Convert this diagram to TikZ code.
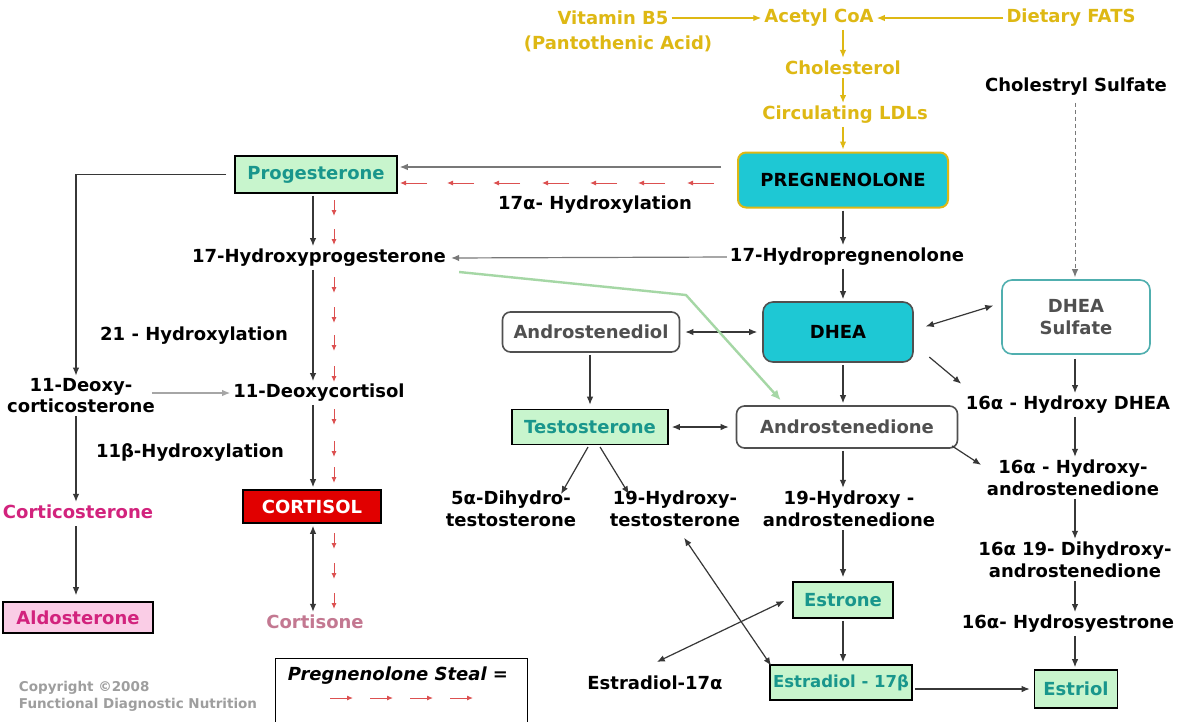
\documentclass[tikz,border=0pt]{standalone}
\usepackage{fontspec}
\setmainfont{DejaVu Sans}
\usetikzlibrary{arrows.meta,calc}
\definecolor{goldc}{RGB}{222,184,20}
\definecolor{cyanf}{RGB}{30,200,212}
\definecolor{greenf}{RGB}{200,245,205}
\definecolor{tealt}{RGB}{25,150,140}
\definecolor{magt}{RGB}{210,35,125}
\definecolor{pinkf}{RGB}{250,205,230}
\definecolor{redf}{RGB}{225,0,0}
\definecolor{linec}{RGB}{55,55,55}
\definecolor{lgray}{RGB}{120,120,120}
\definecolor{stealc}{RGB}{220,80,80}
\definecolor{cortc}{RGB}{195,120,145}
\definecolor{grt}{RGB}{80,80,80}
\definecolor{sulfc}{RGB}{80,175,175}
\definecolor{greenl}{RGB}{165,215,165}
\begin{document}
\begin{tikzpicture}[x=1pt,y=-1pt,
 lbl/.style={font=\bfseries\fontsize{18}{22}\selectfont, align=center, inner sep=1pt, text=black},
 yel/.style={lbl, text=goldc},
 gbox/.style={lbl, draw=black, line width=1.6pt, fill=greenf, text=tealt, inner sep=0pt},
 rbox/.style={lbl, draw=grt, line width=1.6pt, rounded corners=8pt, fill=white, text=grt, inner sep=0pt},
 tip/.style={-{Latex[length=8pt,width=6.5pt]}},
 arr/.style={draw=linec, line width=1.2pt, tip, shorten >=2pt, shorten <=2pt},
 garr/.style={arr, draw=lgray},
 dbl/.style={arr, {Latex[length=8pt,width=6.5pt]}-{Latex[length=8pt,width=6.5pt]}},
 yarr/.style={draw=goldc, line width=1.4pt, -{Latex[length=8pt,width=6.5pt]}, shorten >=2pt, shorten <=2pt},
 steal/.style={draw=stealc, line width=1pt, -{Latex[length=6pt,width=5pt]}}
]
\useasboundingbox[fill=white] (0,0) rectangle (1182,721);

\coordinate (hx) at (843,0);
\coordinate (lc) at (313,0);
\coordinate (lx) at (76,0);
\coordinate (rx) at (1075,0);

% ---- top (yellow) ----
\node[yel] (vb1) at (613,18) {Vitamin B5};
\node[yel] (vb2) at (618,44) {(Pantothenic Acid)};
\node[yel] (acoa) at (819,18) {Acetyl CoA};
\node[yel] (fats) at (1071,18) {Dietary FATS};
\node[yel] (chol) at (843,68) {Cholesterol};
\node[yel] (ldl) at (845,115) {Circulating LDLs};
\node[lbl, draw=goldc, line width=2pt, fill=cyanf, rounded corners=8pt, minimum width=210pt, minimum height=55pt] (preg) at (843,180) {PREGNENOLONE};
\node[lbl] (cs) at (1076,87) {Cholestryl Sulfate};

\draw[yarr] (vb1.east) -- (acoa.west);
\draw[yarr] (fats.west) -- (acoa.east);
\draw[yarr] (acoa.south -| hx) -- (chol.north -| hx);
\draw[yarr] (chol.south -| hx) -- (ldl.north -| hx);
\draw[yarr] (ldl.south -| hx) -- (preg.north -| hx);

% ---- left column ----
\node[gbox, minimum width=162pt, minimum height=37pt] (prog) at (316,174.5) {Progesterone};
\node[lbl] (hyl17) at (595,205) {17α- Hydroxylation};
\node[lbl] (ohp) at (319,258) {17-Hydroxyprogesterone};
\node[lbl] (h21) at (194,336) {21 - Hydroxylation};
\node[lbl, font=\bfseries\fontsize{18}{21}\selectfont] (doc) at (81,396) {11-Deoxy-\\corticosterone};
\node[lbl] (dcort) at (319,393) {11-Deoxycortisol};
\node[lbl] (h11b) at (190,452) {11β-Hydroxylation};
\node[lbl, text=magt] (cortico) at (78,512) {Corticosterone};
\node[lbl, draw=black, line width=1.6pt, fill=redf, text=white, minimum width=138pt, minimum height=33pt, inner sep=0pt] (cortisol) at (312,506.5) {CORTISOL};
\node[lbl, draw=black, line width=1.6pt, fill=pinkf, text=magt, minimum width=150pt, minimum height=31pt, inner sep=0pt] (aldo) at (78,617.5) {Aldosterone};
\node[lbl, text=cortc] (cortisone) at (315,622) {Cortisone};

% ---- middle / right ----
\node[lbl] (hpreg) at (847,257) {17-Hydropregnenolone};
\node[rbox, draw=sulfc, rounded corners=10pt, minimum width=148pt, minimum height=74pt] (dheas) at (1076,317) {DHEA\\Sulfate};
\node[rbox, minimum width=177pt, minimum height=40pt] (adiol) at (591,332) {Androstenediol};
\node[lbl, draw=grt, line width=1.6pt, fill=cyanf, rounded corners=10pt, minimum width=150pt, minimum height=60pt] (dhea) at (838,332) {DHEA};
\node[gbox, minimum width=156pt, minimum height=35pt] (testo) at (590,427) {Testosterone};
\node[rbox, minimum width=221pt, minimum height=42pt] (adione) at (847,427) {Androstenedione};
\node[lbl] (h16dhea) at (1068,405) {16α - Hydroxy DHEA};
\node[lbl] (h16ad) at (1073,478) {16α - Hydroxy-\\androstenedione};
\node[lbl] (dht) at (511,509) {5α-Dihydro-\\testosterone};
\node[lbl] (oht) at (675,509) {19-Hydroxy-\\testosterone};
\node[lbl] (oha) at (849,509) {19-Hydroxy -\\androstenedione};
\node[lbl] (dihy) at (1075,560) {16α 19- Dihydroxy-\\androstenedione};
\node[gbox, minimum width=100pt, minimum height=36pt] (estrone) at (843,600) {Estrone};
\node[lbl] (hyes) at (1068,624) {16α- Hydrosyestrone};
\node[lbl] (e17a) at (655,683) {Estradiol-17α};
\node[gbox, font=\bfseries\fontsize{16.5}{20}\selectfont, minimum width=142pt, minimum height=35pt] (e17b) at (841,682.5) {Estradiol - 17β};
\node[gbox, minimum width=83pt, minimum height=38pt] (estriol) at (1076,689) {Estriol};

% legend and copyright
\node[draw=black, line width=1.2pt, minimum width=252pt, minimum height=80pt, anchor=north west, inner sep=0pt] (leg) at (275,658) {};
\node[lbl, font=\bfseries\itshape\fontsize{18}{20}\selectfont] (legt) at (398,676) {Pregnenolone Steal =};
\foreach \x in {330,370,410,450} \draw[steal] (\x,698) -- ++(23,0);
\node[font=\bfseries\fontsize{13.5}{17}\selectfont, text=black!38, align=left, inner sep=0pt] (copy) at (138,696) {Copyright ©2008\\Functional Diagnostic Nutrition};

% ---- connectors ----
\path ([xshift=-14pt,yshift=13pt]preg.west) coordinate (pp1);
\draw[garr] (pp1) -- (pp1 -| prog.east);
\foreach \x in {400,447,493,542,590,638,687} \draw[steal] (\x+27,183) -- (\x,183);
\foreach \y in {200,229,277,307,335,366,409,441,467,533,563,593} \draw[steal] (334,\y) -- ++(0,16);

\draw[arr] (prog.south -| lc) -- (ohp.north -| lc);
\draw[arr] (ohp.south -| lc) -- (dcort.north -| lc);
\draw[arr] (dcort.south -| lc) -- (cortisol.north -| lc);
\draw[dbl] (cortisol.south -| lc) -- (cortisone.north -| lc);
\draw[arr] ([xshift=-6pt]prog.west) -| (doc.north -| lx);
\draw[arr, draw=black!35, shorten <=-4pt] (doc.east |- dcort.west) -- (dcort.west);
\draw[arr] (doc.south -| lx) -- (cortico.north -| lx);
\draw[arr, shorten <=6pt, shorten >=6pt] (cortico.south -| lx) -- (aldo.north -| lx);

\draw[arr] (preg.south -| hx) -- (hpreg.north -| hx);
\draw[garr, shorten >=4pt] (hpreg.west) -- (ohp.east);
\draw[arr] (hpreg.south -| hx) -- (dhea.north -| hx);
\draw[dbl, shorten <=5pt, shorten >=5pt] (adiol.east) -- (dhea.west);
\draw[dbl] ([xshift=10pt,yshift=5pt]dhea.east) -- ([xshift=-6pt,yshift=12pt]dheas.west);
\draw[arr] ([xshift=14pt,yshift=7pt]dhea.south east) -- ([xshift=-2pt,yshift=20pt]h16dhea.west);
\draw[arr] (dhea.south -| hx) -- (adione.north -| hx);
\draw[arr, shorten >=4pt] (adiol.south -| testo.north) -- (testo.north);
\draw[dbl, shorten <=3pt, shorten >=7pt] (testo.east) -- (adione.west);
\draw[arr] ([xshift=-1pt]testo.south) -- ([xshift=49pt,yshift=-6pt]dht.north);
\draw[arr] ([xshift=9pt]testo.south) -- ([xshift=-45pt,yshift=-6pt]oht.north);
\draw[arr] (adione.south -| hx) -- (oha.north -| hx);
\draw[arr] ([xshift=-8pt,yshift=4pt]adione.south east) -- ([xshift=-3pt,yshift=12pt]h16ad.west);

\coordinate (gbend) at (686,295);
\draw[draw=greenl, line width=2.4pt, -{Latex[length=10pt,width=9pt]}] ([xshift=12pt,yshift=-14pt]ohp.east) -- (gbend) -- ([xshift=45pt,yshift=5pt]adione.north west);

\draw[arr, draw=lgray, dashed, dash pattern=on 4pt off 3pt, line width=1pt, shorten <=6pt] (cs.south -| rx) -- (dheas.north -| rx);
\draw[arr, shorten <=4pt] (dheas.south -| rx) -- (h16dhea.north -| rx);
\draw[arr] (h16dhea.south -| rx) -- (h16ad.north -| rx);
\draw[arr] (h16ad.south -| rx) -- (dihy.north -| rx);
\draw[arr] (dihy.south -| rx) -- (hyes.north -| rx);
\draw[arr] (hyes.south -| rx) -- (estriol.north -| rx);

\draw[arr, shorten >=4pt] (oha.south -| hx) -- (estrone.north -| hx);
\draw[arr] (estrone.south -| hx) -- (e17b.north -| hx);
\draw[arr, shorten >=4pt] (e17b.east |- estriol.west) -- (estriol.west);
\draw[dbl] ([xshift=-6pt]estrone.west) -- ([yshift=12pt]e17a.north);
\draw[dbl] ([xshift=8pt,yshift=-8pt]oht.south) -- ([xshift=3pt,yshift=-3pt]e17b.north west);
\end{tikzpicture}
\end{document}
